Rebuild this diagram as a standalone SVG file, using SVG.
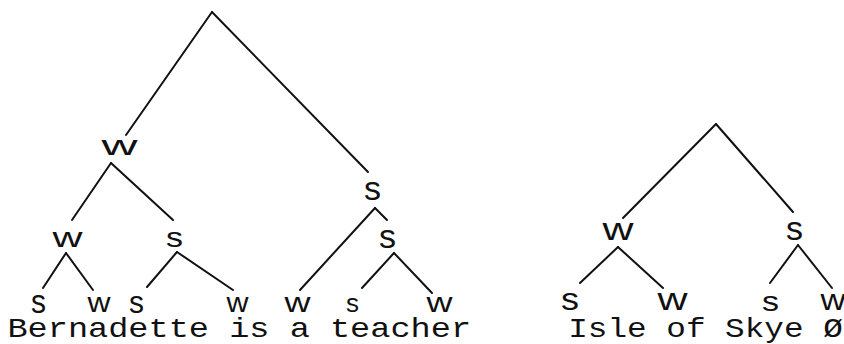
<svg xmlns="http://www.w3.org/2000/svg" width="844" height="344" viewBox="0 0 844 344">
<style>
.bg{fill:#ffffff}
.edge{stroke:#111;stroke-width:2;stroke-linecap:round;fill:none}
.n{font-family:"Liberation Sans","DejaVu Sans",sans-serif;fill:#111;text-anchor:middle}
.word{font-family:"Liberation Mono","DejaVu Sans Mono",monospace;fill:#111}
</style>
<rect class="bg" width="844" height="344"/>
<g id="connectors">
<line class="edge" x1="212" y1="12" x2="126" y2="135"/>
<line class="edge" x1="212" y1="12" x2="368" y2="172"/>
<line class="edge" x1="111" y1="163" x2="72" y2="220"/>
<line class="edge" x1="111" y1="163" x2="173" y2="220"/>
<line class="edge" x1="66" y1="253" x2="43" y2="288"/>
<line class="edge" x1="66" y1="253" x2="93" y2="290"/>
<line class="edge" x1="177" y1="252" x2="147" y2="287"/>
<line class="edge" x1="177" y1="252" x2="233" y2="290"/>
<line class="edge" x1="375" y1="208" x2="300" y2="290"/>
<line class="edge" x1="375" y1="208" x2="387" y2="220"/>
<line class="edge" x1="394" y1="253" x2="362" y2="288"/>
<line class="edge" x1="394" y1="253" x2="432" y2="293"/>
<line class="edge" x1="716" y1="124" x2="623" y2="218"/>
<line class="edge" x1="716" y1="124" x2="793" y2="212"/>
<line class="edge" x1="618" y1="247" x2="580" y2="283"/>
<line class="edge" x1="618" y1="247" x2="663" y2="288"/>
<line class="edge" x1="798" y1="245" x2="770" y2="283"/>
<line class="edge" x1="798" y1="245" x2="832" y2="288"/>
</g>
<g id="node-L-w1"><text class="n" x="119.5" y="155" font-size="27" textLength="36" lengthAdjust="spacingAndGlyphs">w</text></g>
<g id="node-L-s1"><text class="n" x="372.5" y="200" font-size="33" textLength="17" lengthAdjust="spacingAndGlyphs">s</text></g>
<g id="node-L-w2"><text class="n" x="67.5" y="247" font-size="27" textLength="30" lengthAdjust="spacingAndGlyphs">w</text></g>
<g id="node-L-s2"><text class="n" x="174.5" y="247" font-size="28" textLength="17" lengthAdjust="spacingAndGlyphs">s</text></g>
<g id="node-L-s3"><text class="n" x="387.5" y="248" font-size="33" textLength="17" lengthAdjust="spacingAndGlyphs">s</text></g>
<g id="node-L-leaf1"><text class="n" x="38.5" y="313" font-size="33" textLength="15" lengthAdjust="spacingAndGlyphs">s</text></g>
<g id="node-L-leaf2"><text class="n" x="99" y="312" font-size="27" textLength="23" lengthAdjust="spacingAndGlyphs">w</text></g>
<g id="node-L-leaf3"><text class="n" x="136.5" y="313" font-size="31" textLength="15" lengthAdjust="spacingAndGlyphs">s</text></g>
<g id="node-L-leaf4"><text class="n" x="237.5" y="312" font-size="27" textLength="22" lengthAdjust="spacingAndGlyphs">w</text></g>
<g id="node-L-leaf5"><text class="n" x="297.5" y="312" font-size="27" textLength="26" lengthAdjust="spacingAndGlyphs">w</text></g>
<g id="node-L-leaf6"><text class="n" x="352.5" y="312" font-size="26" textLength="13" lengthAdjust="spacingAndGlyphs">s</text></g>
<g id="node-L-leaf7"><text class="n" x="439.5" y="312" font-size="27" textLength="26" lengthAdjust="spacingAndGlyphs">w</text></g>
<g id="node-R-w1"><text class="n" x="618" y="240" font-size="31" textLength="31" lengthAdjust="spacingAndGlyphs">w</text></g>
<g id="node-R-s1"><text class="n" x="794.5" y="240" font-size="33" textLength="17" lengthAdjust="spacingAndGlyphs">s</text></g>
<g id="node-R-leaf1"><text class="n" x="570" y="310" font-size="31" textLength="18" lengthAdjust="spacingAndGlyphs">s</text></g>
<g id="node-R-leaf2"><text class="n" x="672.5" y="310" font-size="31" textLength="30" lengthAdjust="spacingAndGlyphs">w</text></g>
<g id="node-R-leaf3"><text class="n" x="770.5" y="311" font-size="28" textLength="17" lengthAdjust="spacingAndGlyphs">s</text></g>
<g id="node-R-leaf4"><text class="n" x="833" y="310" font-size="29" textLength="25" lengthAdjust="spacingAndGlyphs">w</text></g>
<g id="words">
<text class="word" transform="translate(7.4,337) scale(1,0.82)" font-size="33.6">Bernadette is a teacher</text>
<text class="word" transform="translate(568.2,337) scale(1,0.82)" font-size="32.7">Isle of Skye Ø</text>
</g>
</svg>
